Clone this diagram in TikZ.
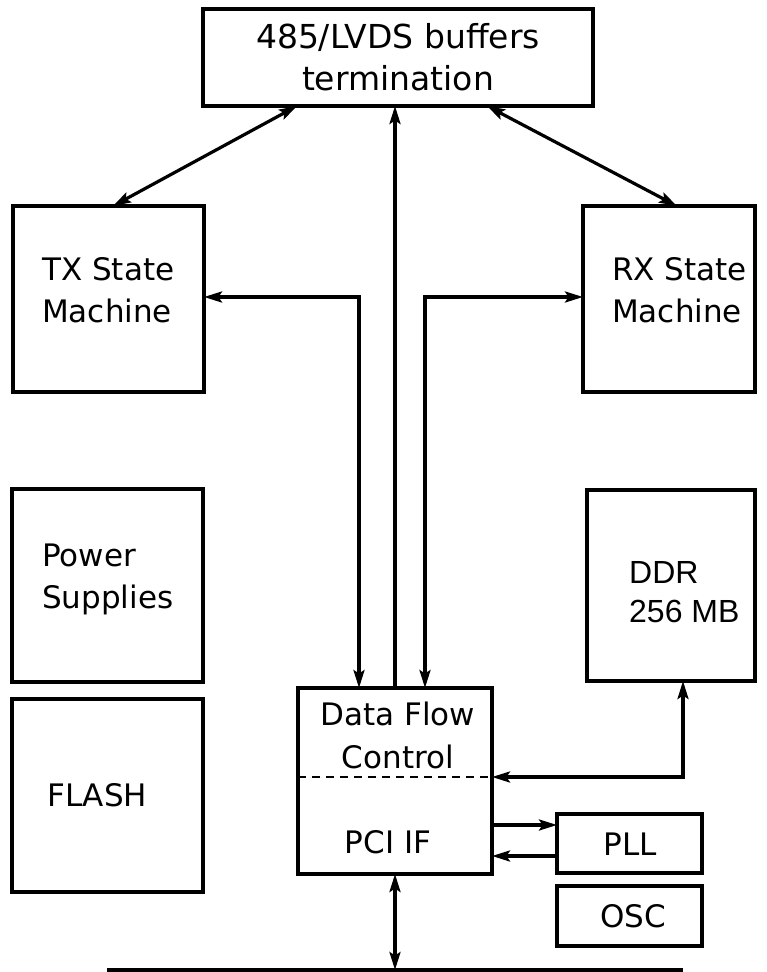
\documentclass[tikz,border=0pt]{standalone}
\usepackage{fontspec}
\setmainfont{DejaVu Sans}
\newfontfamily\arialf{Liberation Sans}
\usetikzlibrary{arrows.meta}

\tikzset{
  blk/.style={draw, line width=3.2pt, inner sep=0pt, outer sep=0pt},
  lbl/.style={inner sep=0pt, font=\fontsize{31}{38}\selectfont},
  toplbl/.style={inner sep=0pt, font=\fontsize{33}{40}\selectfont},
  ddrlbl/.style={inner sep=0pt, font=\arialf\fontsize{32}{38}\selectfont},
  conn/.style={line width=3.2pt, >={Stealth[length=18pt,width=11pt,inset=3.5pt]}},
}

\begin{document}
\begin{tikzpicture}[x=1pt, y=-1pt]
\useasboundingbox (0,0) rectangle (767,972);

% blocks
\node[blk, minimum width=390pt, minimum height=97pt]  (top)   at (398,57.5)  {};
\node[blk, minimum width=191pt, minimum height=186pt] (tx)    at (108.5,299) {};
\node[blk, minimum width=172pt, minimum height=186pt] (rx)    at (669,299)   {};
\node[blk, minimum width=191pt, minimum height=193pt] (pwr)   at (107.5,585.5) {};
\node[blk, minimum width=168pt, minimum height=191pt] (ddr)   at (671,585.5) {};
\node[blk, minimum width=191pt, minimum height=193pt] (flash) at (107.5,795.5) {};
\node[blk, minimum width=194pt, minimum height=186pt] (dfc)   at (395,781)   {};
\node[blk, minimum width=145pt, minimum height=59pt]  (pll)   at (629.5,843.5) {};
\node[blk, minimum width=145pt, minimum height=60pt]  (osc)   at (629.5,916) {};

% labels
\node[toplbl, anchor=base] (top-a) at (398,48) {485/LVDS buffers};
\node[toplbl, anchor=base] (top-b) at (398,90) {termination};
\node[lbl, anchor=base west] (tx-a) at (42,280) {TX State};
\node[lbl, anchor=base west] (tx-b) at (42,322) {Machine};
\node[lbl, anchor=base west] (rx-a) at (612,280) {RX State};
\node[lbl, anchor=base west] (rx-b) at (612,322) {Machine};
\node[lbl, anchor=base west] (pwr-a) at (42,566) {Power};
\node[lbl, anchor=base west] (pwr-b) at (42,608) {Supplies};
\node[ddrlbl, anchor=base west] (ddr-a) at (629,583) {DDR};
\node[ddrlbl, anchor=base west] (ddr-b) at (629,622) {256 MB};
\node[lbl, anchor=base west] (flash-a) at (47,806) {FLASH};
\node[lbl, anchor=base] (dfc-a) at (398,725) {Data Flow};
\node[lbl, anchor=base] (dfc-b) at (398,768) {Control};
\node[lbl, anchor=base] (pci) at (388,853) {PCI IF};
\node[lbl, anchor=base] (pll-a) at (630,855) {PLL};
\node[lbl, anchor=base] (osc-a) at (633,927) {OSC};

% split between data flow control and PCI interface
\coordinate (split) at ([yshift=4pt]dfc.east);
\draw[line width=2.6pt, dash pattern=on 8pt off 6pt] (split -| dfc.west) -- (split);

% bus
\coordinate (busL) at (107,970);
\coordinate (busR) at (683,970);
\draw[line width=3.2pt] (busL) -- (busR);

% connectors
\draw[conn, <->] ([xshift=-101pt]top.south) -- ([xshift=4.5pt]tx.north);
\draw[conn, <->] ([xshift=89pt]top.south) -- ([xshift=8pt]rx.north);
\draw[conn, ->] (dfc.north) -- (dfc.north |- top.south);
\draw[conn, <->] ([xshift=-36pt]dfc.north) |- ([yshift=2pt]tx.east);
\draw[conn, <->] ([xshift=30pt]dfc.north) |- ([yshift=2pt]rx.west);
\draw[conn, <->] (split) -| ([xshift=12pt]ddr.south);
\coordinate (pllA) at ([yshift=18.5pt]pll.west);
\coordinate (pllB) at ([yshift=-12.5pt]pll.west);
\draw[conn, ->] (pllA -| dfc.east) -- (pllA);
\draw[conn, ->] (pllB) -- (pllB -| dfc.east);
\draw[conn, <->] (dfc.south) -- (dfc.south |- busL);
\end{tikzpicture}
\end{document}
